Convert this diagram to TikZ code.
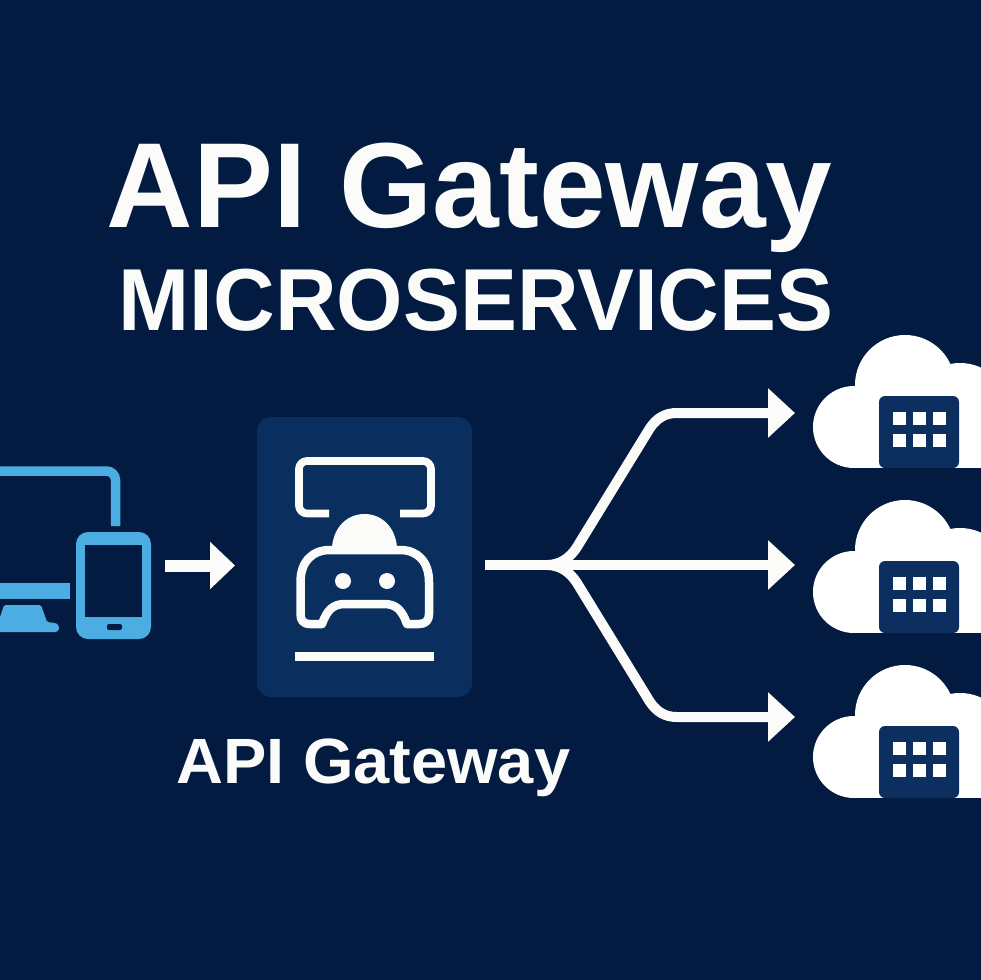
\documentclass[tikz,border=0pt]{standalone}
\usepackage{fontspec}
\usepackage{graphicx}
\setmainfont{Liberation Sans}
\usetikzlibrary{arrows.meta}
\definecolor{bgc}{HTML}{031B40}
\definecolor{panelc}{HTML}{0A2F5E}
\definecolor{bluec}{HTML}{4CADE2}
\definecolor{bldc}{HTML}{0C2F5F}
\definecolor{whitec}{HTML}{FBFBF9}
\tikzset{
  x=1pt,y=-1pt,
  flow/.style={whitec,line width=10pt,line join=round,-{Triangle[length=27pt,width=48pt]}},
  smallflow/.style={whitec,line width=12pt,-{Triangle[length=25pt,width=46pt]}},
  icon/.style={whitec,line width=7.7pt,line join=round},
  titletext/.style={text=whitec,inner sep=0pt,font=\bfseries,anchor=base},
}
\newcommand{\cloudicon}[1]{%
  \begin{scope}[shift={(0,#1)}]
    \fill[white] (854,427) circle[radius=41];
    \fill[white] (905,385) circle[radius=50];
    \fill[white] (960,413) circle[radius=50];
    \fill[white] (854,420) rectangle (1000,468);
    \fill[bldc,rounded corners=6pt] (879,468) -- (879,396) -- (959,396) -- (959,468) -- cycle;
    \foreach \wx in {892.5,912.5,933}{
      \foreach \wy in {412,433.5}{
        \fill[white] (\wx,\wy) rectangle ++(13,13);
      }
    }
  \end{scope}}
\begin{document}
\begin{tikzpicture}
\fill[bgc] (-10,-10) rectangle (1000,1000);
% titles
\node[titletext] (title) at (469.5,227) {\scalebox{0.99}[1]{\fontsize{121}{121}\selectfont API Gateway}};
\node[titletext] (subtitle) at (476,330) {\scalebox{0.97}[1]{\fontsize{88}{88}\selectfont MICROSERVICES}};
% gateway panel
\node[draw=none,fill=panelc,rounded corners=14pt,minimum width=215pt,minimum height=280pt,inner sep=0pt] (gw) at (364.5,557) {};
\node[titletext] (gwlabel) at (373.5,783) {\scalebox{1.015}[1]{\fontsize{64}{64}\selectfont API Gateway}};
% gateway icon
\draw[icon,rounded corners=8pt] (329,513.5) -- (299,513.5) -- (299,461) -- (431,461) -- (431,513.5) -- (400,513.5);
\fill[whitec] (332,550) -- (332,547) .. controls (334,526) and (348,514) .. (364.5,514) .. controls (381,514) and (395,526) .. (397,547) -- (397,550) -- cycle;
\draw[icon,line width=8.5pt] (322,624) -- (310,624) .. controls (303,624) and (300.5,620) .. (300.5,614) -- (300.5,582) .. controls (300.5,562) and (312,550) .. (330,550) -- (400,550) .. controls (418,550) and (429,562) .. (429,582) -- (429,614) .. controls (429,620) and (426,624) .. (419,624) -- (407,624) .. controls (402,610) and (396,604) .. (384,604) -- (345,604) .. controls (333,604) and (327,610) .. (322,624) -- cycle;
\fill[whitec] (343,581) circle[radius=8] (387,581) circle[radius=8];
\fill[whitec] (295,652) rectangle (434,661);
% devices
\draw[bluec,line width=9.5pt,rounded corners=9pt] (-5,471) -- (115.5,471) -- (115.5,526);
\fill[bluec] (-5,583) rectangle (70,599);
\fill[bluec,rounded corners=1.5pt] (-5,632) -- (4,605) -- (41,605) -- (47,622) -- (55,623) .. controls (60,625) and (60,632) .. (54,632) -- cycle;
\node[draw=none,fill=bluec,rounded corners=12pt,minimum width=75pt,minimum height=107pt,inner sep=0pt] (phone) at (113.5,585.5) {};
\fill[bgc] (85,545) rectangle (142,617);
\fill[bgc,rounded corners=2pt] (107,624) rectangle (122,630);
% clouds
\cloudicon{0}
\cloudicon{165}
\cloudicon{330}
% connectors
\coordinate (split) at (547,565);
\coordinate (s1) at (795,413);
\coordinate (s2) at (795,565);
\coordinate (s3) at (795,717);
\coordinate (devout) at (165,565.5);
\coordinate (gwin) at (235,565.5);
\coordinate (gwout) at (485,565);
\draw[smallflow] (devout) -- (gwin);
\draw[flow] (gwout) -- (s2);
\draw[flow] (split) .. controls (560,565) and (570,558) .. (577,547) -- (650,428) .. controls (657,418) and (665,413) .. (677,413) -- (s1);
\draw[flow] (split) .. controls (560,565) and (570,572) .. (577,583) -- (650,702) .. controls (657,712) and (665,717) .. (677,717) -- (s3);
\pgfresetboundingbox
\useasboundingbox (0,0) rectangle (980,980);
\end{tikzpicture}
\end{document}
